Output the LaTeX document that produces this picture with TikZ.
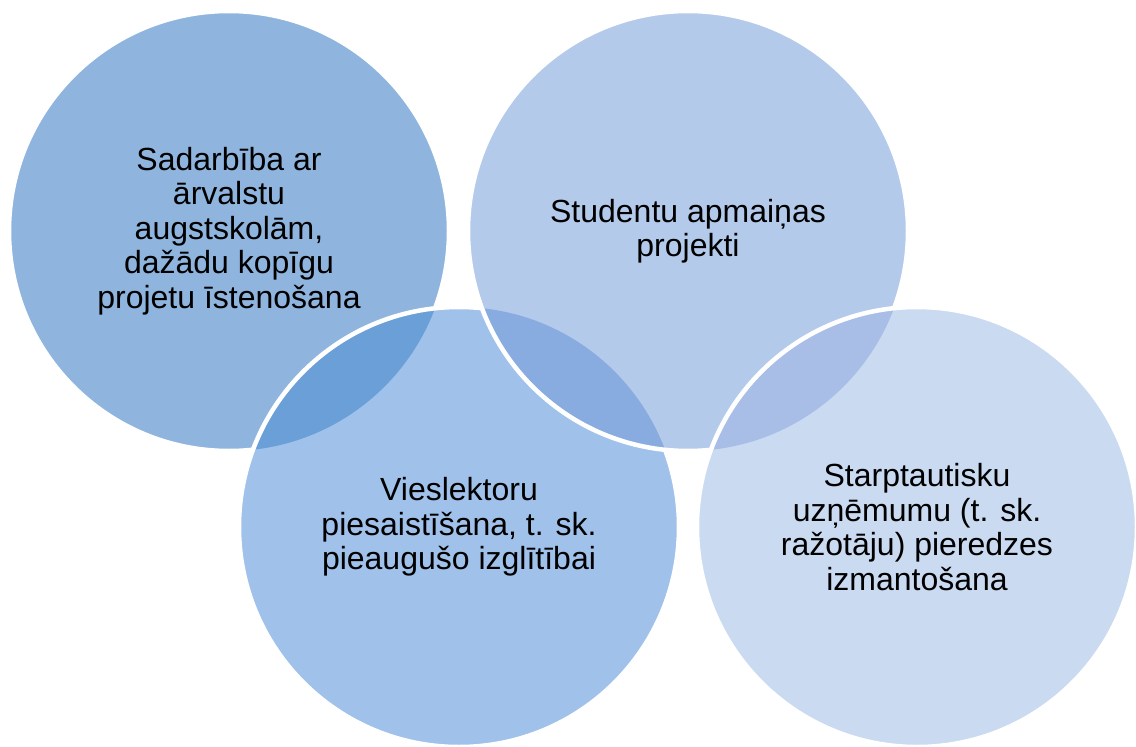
\documentclass[tikz,border=0pt]{standalone}
\usepackage{fontspec}
\setmainfont{Liberation Sans}
\usepackage{xcolor}
\usepackage{tikz}
\usetikzlibrary{positioning}

% circle fills and the darker lens where two of them overlap
\definecolor{venA}{HTML}{8FB5DF}
\definecolor{venB}{HTML}{B4CAEB}
\definecolor{venC}{HTML}{A0C1EA}
\definecolor{venD}{HTML}{CADAF1}
\definecolor{lensAC}{HTML}{6A9FD8}
\definecolor{lensBC}{HTML}{88ACE0}
\definecolor{lensBD}{HTML}{A8BEE7}

\begin{document}
\begin{tikzpicture}[
    x=1pt, y=1pt,
    ring/.style={draw=white, line width=4.5pt},
    label/.style={font=\fontsize{32}{34.5}\selectfont, align=center, text=black},
]

%------------------------------------------------------------
% Venn geometry constants
%   all four circles have the same radius R
%   top row at y = -231, bottom row at y = -527
%------------------------------------------------------------
\def\R{220}    % radius

\useasboundingbox (0,0) rectangle (1136,-747);

% Centres
\coordinate (cA) at (229,-231);
\coordinate (cB) at (688,-231);
\coordinate (cC) at (459,-527);
\coordinate (cD) at (917,-527);

%============================================================
%  Circle A  (top left)
%============================================================
\fill[venA] (cA) circle[radius=\R];
\draw[ring] (cA) circle[radius=\R];

%============================================================
%  Circle C  (bottom left), over A
%============================================================
\fill[venC] (cC) circle[radius=\R];
\begin{scope}
    \clip (cA) circle[radius=\R];
    \fill[lensAC] (cC) circle[radius=\R];
\end{scope}
\draw[ring] (cC) circle[radius=\R];

%============================================================
%  Circle B  (top right), over C
%============================================================
\fill[venB] (cB) circle[radius=\R];
\begin{scope}
    \clip (cC) circle[radius=\R];
    \fill[lensBC] (cB) circle[radius=\R];
\end{scope}
\draw[ring] (cB) circle[radius=\R];

%============================================================
%  Circle D  (bottom right), over B
%============================================================
\fill[venD] (cD) circle[radius=\R];
\begin{scope}
    \clip (cB) circle[radius=\R];
    \fill[lensBD] (cD) circle[radius=\R];
\end{scope}
\draw[ring] (cD) circle[radius=\R];

% --- Texts, one in the middle of each circle ---
\node[label] (tA) at (cA) {Sadarbība ar\\ārvalstu\\augstskolām,\\dažādu kopīgu\\projetu īstenošana};
\node[label] (tB) at (cB) {Studentu apmaiņas\\projekti};
\node[label] (tC) at (cC) {Vieslektoru\\piesaistīšana, t. sk.\\pieaugušo izglītībai};
\node[label] (tD) at (cD) {Starptautisku\\uzņēmumu (t. sk.\\ražotāju) pieredzes\\izmantošana};

\end{tikzpicture}
\end{document}
